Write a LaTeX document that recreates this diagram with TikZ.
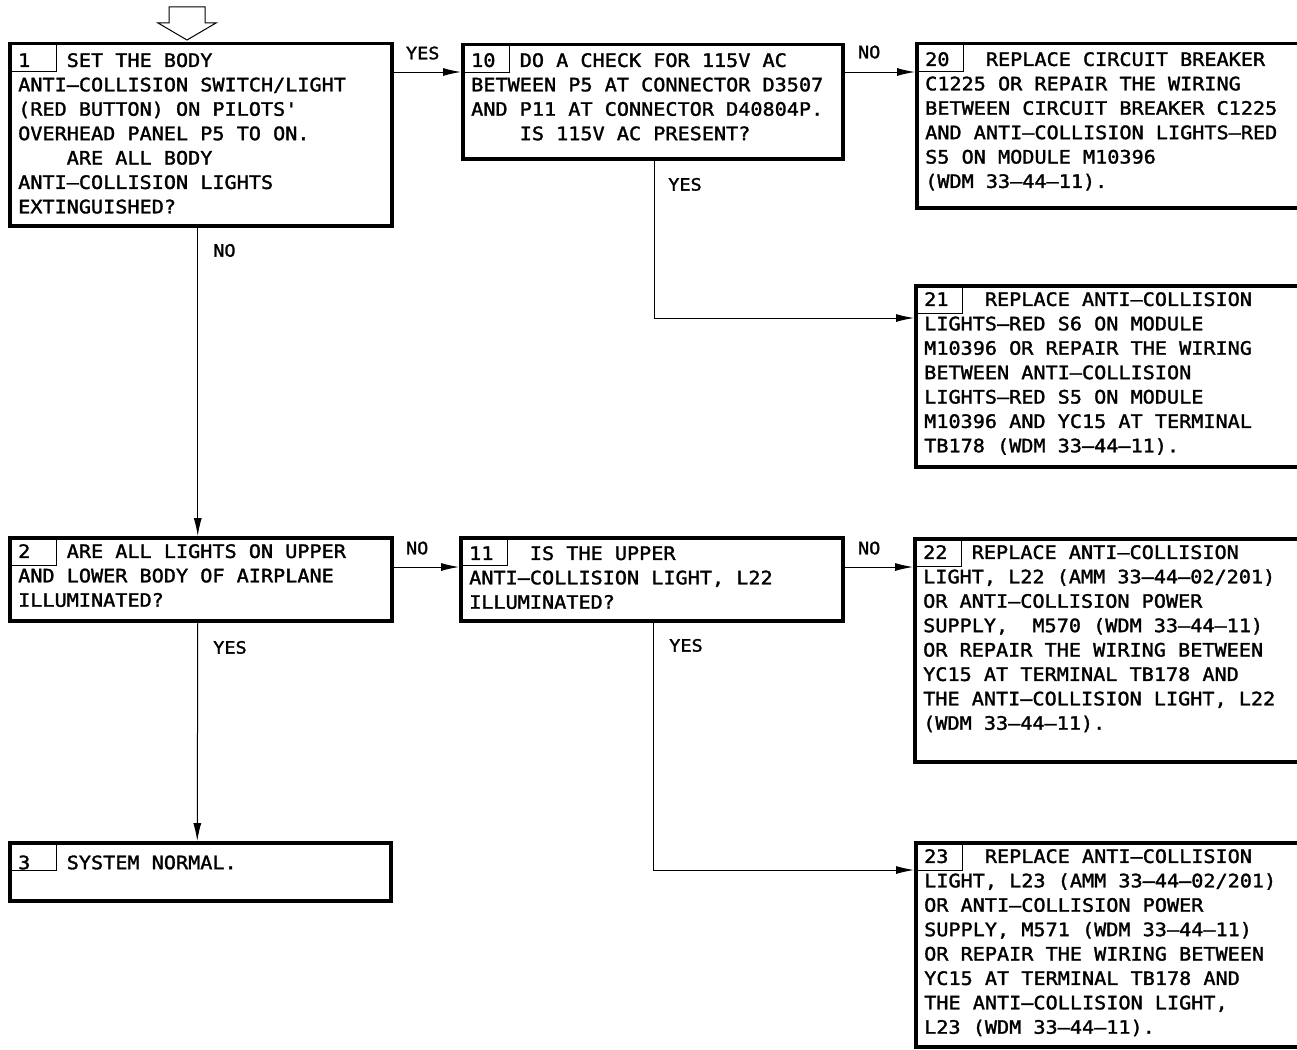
\documentclass[tikz,border=0pt]{standalone}
\usepackage{fontspec}
\newfontfamily\boefont[FakeStretch=1.09,FakeBold=1.6,Ligatures=TeXOff]{DejaVu Sans Mono}
\usetikzlibrary{arrows.meta}

\begin{document}
\begin{tikzpicture}[x=1pt,y=-1pt,
  chkbox/.style={draw, line width=3.5pt, anchor=north west, inner sep=0pt},
  numbox/.style={draw, line width=1pt, anchor=north west, inner sep=0pt, minimum width=48pt, minimum height=28.5pt},
  txt/.style={anchor=north west, inner sep=0pt, align=left, font=\boefont\fontsize{18.5}{24.4}\selectfont, execute at begin node={\rule{0pt}{18pt}}},
  lab/.style={inner sep=0pt, font=\boefont\fontsize{17}{20}\selectfont},
  arr/.style={line width=1pt, -{Latex[length=18pt,width=8pt]}}]
\useasboundingbox (0,0) rectangle (1297,1049);
\clip (0,0) rectangle (1297,1049);
\fill[white] (0,0) rectangle (1297,1049);

% entry arrow
\coordinate (entry) at (187,40);
\draw[line width=1pt] (entry) -- ++(-29,-17) -- ++(11,0) -- ++(0,-16) -- ++(36,0) -- ++(0,16) -- ++(11,0) -- cycle;

% left column
\node[chkbox, minimum width=382pt, minimum height=182pt] (b1) at (8,42) {};
\node[numbox] (n1) at (8,42) {};
\node[txt] (t1) at (18,53) {1~~~SET THE BODY\\ANTI–COLLISION SWITCH/LIGHT\\(RED BUTTON) ON PILOTS'\\OVERHEAD PANEL P5 TO ON.\\\phantom{0000}ARE ALL BODY\\ANTI–COLLISION LIGHTS\\EXTINGUISHED?};

\node[chkbox, minimum width=382pt, minimum height=83pt] (b2) at (8,536) {};
\node[numbox] (n2) at (8,536) {};
\node[txt] (t2) at (18,544) {2~~~ARE ALL LIGHTS ON UPPER\\AND LOWER BODY OF AIRPLANE\\ILLUMINATED?};

\node[chkbox, minimum width=381pt, minimum height=58pt] (b3) at (8,841) {};
\node[numbox] (n3) at (8,841) {};
\node[txt] (t3) at (18,851) {3~~~SYSTEM NORMAL.};

% middle column
\node[chkbox, minimum width=380pt, minimum height=114pt] (b10) at (461,43) {};
\node[numbox] (n10) at (461,43) {};
\node[txt] (t10) at (471,53) {10~~DO A CHECK FOR 115V AC\\BETWEEN P5 AT CONNECTOR D3507\\AND P11 AT CONNECTOR D40804P.\\\phantom{0000}IS 115V AC PRESENT?};

\node[chkbox, minimum width=382pt, minimum height=83pt] (b11) at (459,536) {};
\node[numbox] (n11) at (459,536) {};
\node[txt] (t11) at (469,546) {11~~~IS THE UPPER\\ANTI–COLLISION LIGHT, L22\\ILLUMINATED?};

% right column
\node[chkbox, minimum width=417pt, minimum height=164pt] (b20) at (915,42) {};
\node[numbox] (n20) at (915,42) {};
\node[txt] (t20) at (925,52) {20~~~REPLACE CIRCUIT BREAKER\\C1225 OR REPAIR THE WIRING\\BETWEEN CIRCUIT BREAKER C1225\\AND ANTI–COLLISION LIGHTS–RED\\S5 ON MODULE M10396\\(WDM 33–44–11).};

\node[chkbox, minimum width=417pt, minimum height=181pt] (b21) at (914,284) {};
\node[numbox] (n21) at (914,284) {};
\node[txt] (t21) at (924,292) {21~~~REPLACE ANTI–COLLISION\\LIGHTS–RED S6 ON MODULE\\M10396 OR REPAIR THE WIRING\\BETWEEN ANTI–COLLISION\\LIGHTS–RED S5 ON MODULE\\M10396 AND YC15 AT TERMINAL\\TB178 (WDM 33–44–11).};

\node[chkbox, minimum width=417pt, minimum height=223pt] (b22) at (913,537) {};
\node[numbox] (n22) at (913,537) {};
\node[txt] (t22) at (923,545) {22~~REPLACE ANTI–COLLISION\\LIGHT, L22 (AMM 33–44–02/201)\\OR ANTI–COLLISION POWER\\SUPPLY,~~M570 (WDM 33–44–11)\\OR REPAIR THE WIRING BETWEEN\\YC15 AT TERMINAL TB178 AND\\THE ANTI–COLLISION LIGHT, L22\\(WDM 33–44–11).};

\node[chkbox, minimum width=417pt, minimum height=204pt] (b23) at (914,841) {};
\node[numbox] (n23) at (914,841) {};
\node[txt] (t23) at (924,849) {23~~~REPLACE ANTI–COLLISION\\LIGHT, L23 (AMM 33–44–02/201)\\OR ANTI–COLLISION POWER\\SUPPLY, M571 (WDM 33–44–11)\\OR REPAIR THE WIRING BETWEEN\\YC15 AT TERMINAL TB178 AND\\THE ANTI–COLLISION LIGHT,\\L23 (WDM 33–44–11).};

% yes / no branches
\coordinate (r1) at (0,72);
\coordinate (r2) at (0,567);
\draw[arr] (b1.east |- r1) node[lab, anchor=south west, xshift=12pt, yshift=12pt] {YES} -- (b10.west |- r1);
\draw[arr] (b10.east |- r1) node[lab, anchor=south west, xshift=13pt, yshift=13pt] {NO} -- (b20.west |- r1);
\draw[arr] ([xshift=2pt]b10.south) node[lab, anchor=north west, xshift=13pt, yshift=-17pt] {YES} |- ([yshift=-34pt]b21.north west);
\draw[arr] ([xshift=-3pt]b1.south) node[lab, anchor=north west, xshift=15pt, yshift=-16pt] {NO} -- ([xshift=-3pt]b2.north);
\draw[arr] (b2.east |- r2) node[lab, anchor=south west, xshift=12pt, yshift=12pt] {NO} -- (b11.west |- r2);
\draw[arr] (b11.east |- r2) node[lab, anchor=south west, xshift=13pt, yshift=12pt] {NO} -- (b22.west |- r2);
\draw[arr] ([xshift=2pt]b11.south) node[lab, anchor=north west, xshift=15pt, yshift=-16pt] {YES} |- ([yshift=-29pt]b23.north west);
\draw[arr] ([xshift=-3pt]b2.south) node[lab, anchor=north west, xshift=15pt, yshift=-18pt] {YES} -- ([xshift=-3pt]b3.north);
\end{tikzpicture}
\end{document}
